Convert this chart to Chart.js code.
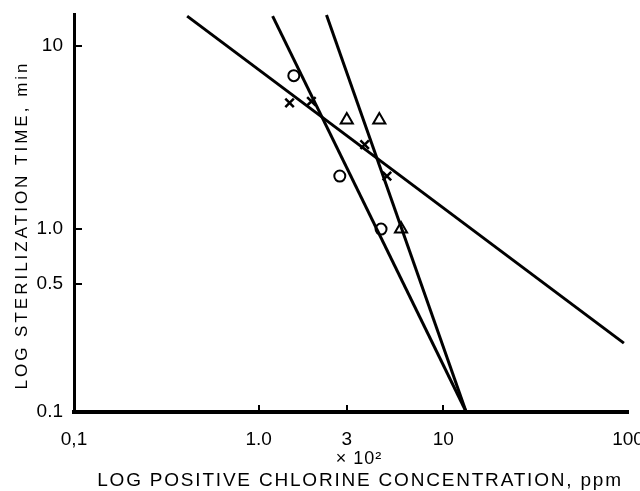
<!DOCTYPE html>
<html>
<head>
<meta charset="utf-8">
<script src="https://cdn.jsdelivr.net/npm/chart.js@4.4.1/dist/chart.umd.min.js"></script>
<style>
  html, body { margin: 0; padding: 0; background: #fff; }
</style>
</head>
<body>
<canvas id="chart" width="640" height="491"></canvas>
<script>
'use strict';

// ── Data (log-log) ──────────────────────────────────────────────
const circleX = [1.55, 2.75, 4.6];
const circleY = [6.9, 1.95, 1.0];
const triangleX = [3.0, 4.5, 5.9];
const triangleY = [3.95, 3.95, 1.0];
const crossX = [1.47, 1.93, 3.75, 4.95];
const crossY = [4.9, 5.0, 2.9, 1.95];

// fitted lines, end points
const lineAX = [0.41, 95];
const lineAY = [14.6, 0.238];
const lineBX = [1.19, 13.3];
const lineBY = [14.6, 0.1];
const lineCX = [2.33, 13.3];
const lineCY = [14.8, 0.1];

const xTicks = [0.1, 1, 3, 10, 100];
const xTickLabels = ['0,1', '1.0', '3', '10', '100'];
const yTicks = [0.1, 0.5, 1, 10];
const yTickLabels = ['0.1', '0.5', '1.0', '10'];

const xTitle = ['\u00d7 10\u00b2', 'LOG POSITIVE CHLORINE CONCENTRATION, ppm'];
const yTitle = 'LOG STERILIZATION TIME, min';

// ── Helpers ─────────────────────────────────────────────────────
const FONT = '"Liberation Sans", Arial, sans-serif';
const toPoints = (xs, ys) => xs.map((x, i) => ({ x: x, y: ys[i] }));

function lineSet(xs, ys) {
  return {
    data: toPoints(xs, ys),
    showLine: true,
    borderColor: '#000',
    borderWidth: 3,
    pointRadius: 0,
    fill: false
  };
}

function markerSet(xs, ys, style, radius, width) {
  return {
    data: toPoints(xs, ys),
    showLine: false,
    pointStyle: style,
    pointRadius: radius,
    pointBorderColor: '#000',
    pointBackgroundColor: '#fff',
    pointBorderWidth: width
  };
}

// ── Plugins ─────────────────────────────────────────────────────
// inward tick marks
const tickMarks = {
  id: 'tickMarks',
  afterDraw(chart) {
    const { ctx, scales: { x, y } } = chart;
    ctx.save();
    ctx.strokeStyle = '#000';
    ctx.lineWidth = 2;
    ctx.beginPath();
    xTicks.slice(1, -1).forEach(v => {
      const px = Math.round(x.getPixelForValue(v));
      ctx.moveTo(px, y.bottom);
      ctx.lineTo(px, y.bottom - 7);
    });
    yTicks.slice(1).forEach(v => {
      const py = Math.round(y.getPixelForValue(v));
      ctx.moveTo(x.left, py);
      ctx.lineTo(x.left + 8, py);
    });
    ctx.stroke();
    ctx.restore();
  }
};

// spaced axis titles
const axisTitles = {
  id: 'axisTitles',
  afterDraw(chart) {
    const { ctx } = chart;
    ctx.save();
    ctx.fillStyle = '#000';
    ctx.textAlign = 'center';
    ctx.textBaseline = 'middle';

    ctx.font = '18px ' + FONT;
    ctx.letterSpacing = '1px';
    ctx.fillText(xTitle[0], 359, 459);

    ctx.font = '19px ' + FONT;
    ctx.letterSpacing = '1.8px';
    ctx.fillText(xTitle[1], 360, 481);

    ctx.translate(22, 225);
    ctx.rotate(-Math.PI / 2);
    ctx.font = '17px ' + FONT;
    ctx.letterSpacing = '3px';
    ctx.fillText(yTitle, 0, 0);
    ctx.restore();
  }
};

// ── Chart ───────────────────────────────────────────────────────
new Chart(document.getElementById('chart'), {
  type: 'scatter',
  data: {
    datasets: [
      lineSet(lineAX, lineAY),
      lineSet(lineBX, lineBY),
      lineSet(lineCX, lineCY),
      markerSet(circleX, circleY, 'circle', 5.5, 2),
      markerSet(triangleX, triangleY, 'triangle', 7, 2),
      markerSet(crossX, crossY, 'crossRot', 6, 2.5)
    ]
  },
  options: {
    responsive: false,
    animation: false,
    layout: { padding: { top: 14, right: 12, left: 0, bottom: 0 } },
    plugins: {
      legend: { display: false },
      tooltip: { enabled: false }
    },
    scales: {
      x: {
        type: 'logarithmic',
        min: 0.1,
        max: 100,
        afterBuildTicks: s => { s.ticks = xTicks.map(v => ({ value: v })); },
        afterFit: s => { s.height = 79; s.paddingLeft = 0; s.paddingRight = 0; },
        grid: { display: false, drawTicks: false },
        border: { display: true, color: '#000', width: 4 },
        ticks: {
          autoSkip: false,
          maxRotation: 0,
          padding: 16,
          color: '#000',
          font: { family: FONT, size: 19 },
          callback: (v, i) => xTickLabels[i]
        }
      },
      y: {
        type: 'logarithmic',
        min: 0.1,
        max: 15,
        afterBuildTicks: s => { s.ticks = yTicks.map(v => ({ value: v })); },
        afterFit: s => { s.width = 74; s.paddingTop = 0; s.paddingBottom = 0; },
        grid: { display: false, drawTicks: false },
        border: { display: true, color: '#000', width: 3 },
        ticks: {
          autoSkip: false,
          padding: 11,
          color: '#000',
          font: { family: FONT, size: 19 },
          callback: (v, i) => yTickLabels[i]
        }
      }
    }
  },
  plugins: [tickMarks, axisTitles]
});
</script>
</body>
</html>
